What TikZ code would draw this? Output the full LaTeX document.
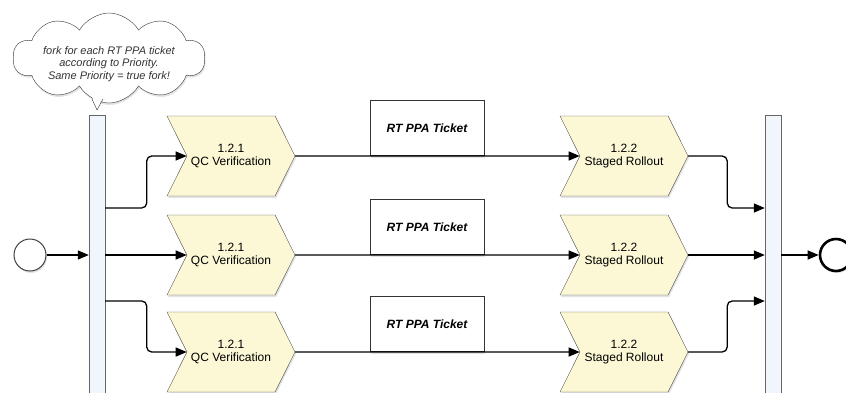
\documentclass[tikz,border=0pt]{standalone}
\usepackage{fontspec}
\setmainfont{Liberation Sans}
\usetikzlibrary{arrows.meta,shapes.symbols,shadows}
\definecolor{chevfill}{HTML}{FCF8D6}
\definecolor{barfill}{HTML}{F1F6FC}
\begin{document}
\begin{tikzpicture}[x=1pt,y=-1pt,>={Triangle[length=11pt,width=9pt]},
  flow/.style={->,line width=1.3pt,rounded corners=5pt},
  shade/.style={drop shadow={opacity=.22,shadow xshift=1pt,shadow yshift=-2pt}},
  chev/.style={signal,signal to=east,signal from=west,signal pointer angle=127,minimum width=128pt,minimum height=80pt,inner sep=0pt,draw=black!70,fill=chevfill,align=center,font=\fontsize{12}{13}\selectfont,shade},
  ticket/.style={draw=black!80,fill=white,minimum width=114pt,minimum height=55pt,font=\fontsize{12}{14}\selectfont\bfseries\itshape,shade},
  bar/.style={draw=black!60,fill=barfill,minimum width=16pt,minimum height=282pt,inner sep=0pt}]
\useasboundingbox (0,0) rectangle (846,392);
% fork / join bars
\node[bar] (lbar) at (97,256) {};\node[bar] (rbar) at (773,256) {};
% start and end events
\node[circle,draw=black!75,fill=white,line width=1pt,minimum size=32pt,shade] (start) at (30,255) {};
\node[circle,draw=black,fill=white,line width=2.6pt,minimum size=32pt,shade] (stop) at (836,255) {};
\draw[flow] (start) -- (start -| lbar.west);\draw[flow] (rbar.east |- stop) -- (stop);
% one lane per ticket
\foreach \r/\y in {1/156,2/255,3/352}{
\node[chev] (qc\r) at (231,\y) {1.2.1\\QC Verification};
\node[chev] (sr\r) at (624,\y) {1.2.2\\Staged Rollout};
\node[ticket] (tk\r) at (427,\y-28) {RT PPA Ticket};
\draw[flow] (qc\r) -- (sr\r);}
\draw[flow] ([yshift=48pt]lbar.east) -| ([xshift=-40pt]qc1.west) -- (qc1.west);
\draw[flow] (qc2.west -| lbar.east) -- (qc2.west);
\draw[flow] ([yshift=-45pt]lbar.east) -| ([xshift=-40pt]qc3.west) -- (qc3.west);
\draw[flow] (sr1.east) -- ++(39,0) |- ([yshift=48pt]rbar.west);
\draw[flow] (sr2.east) -- (sr2.east -| rbar.west);
\draw[flow] (sr3.east) -- ++(39,0) |- ([yshift=-45pt]rbar.west);
% note
\node[cloud,cloud puffs=10,cloud puff arc=120,aspect=2.1,draw=black!80,fill=white,minimum width=192pt,minimum height=90pt,inner sep=0pt,shade] (note) at (109,58) {};
\node[align=center,text=black!80,font=\fontsize{11}{12.5}\selectfont\itshape] (notetext) at ([yshift=-6pt]note.center) {fork for each RT PPA ticket\\according to Priority.\\Same Priority = true fork!};
\fill[white] (92,96) -- (97,110) -- (103,96) -- cycle;\draw[black!80] (92,99) -- (97,110) -- (103,99);
\end{tikzpicture}
\end{document}
